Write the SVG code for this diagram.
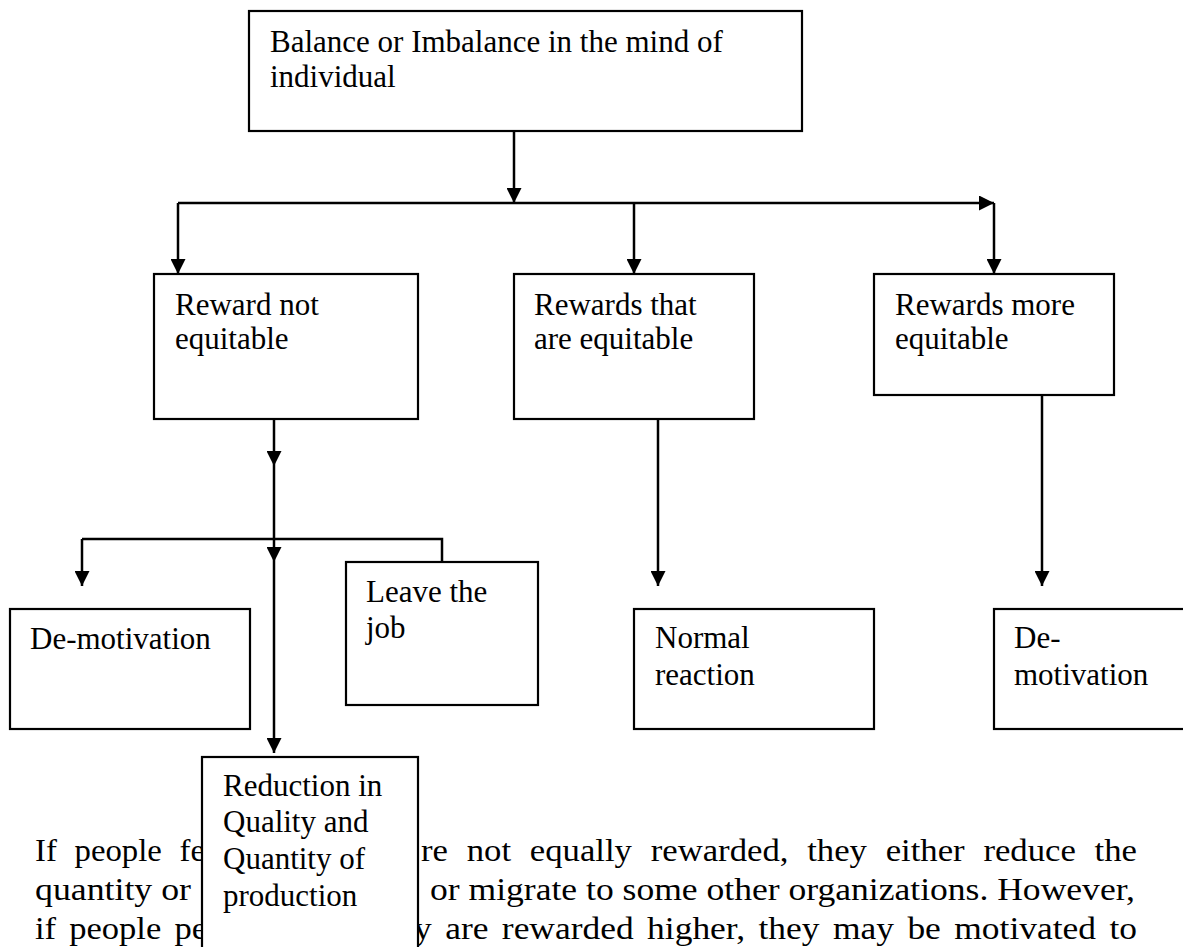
<svg xmlns="http://www.w3.org/2000/svg" width="1183" height="947" viewBox="0 0 1183 947">
  <style>
    .box { fill: #ffffff; stroke: #000000; stroke-width: 2.2; }
    .lbl { font-family: "Liberation Serif", "Times New Roman", serif; font-size: 31px; fill: #000000; }
    .body { font-family: "Liberation Serif", "Times New Roman", serif; font-size: 31px; fill: #000000; }
    .wide { word-spacing: 9px; }
    .mid { word-spacing: 4px; }
    .wire { fill: none; stroke: #000000; stroke-width: 2.5; }
    .arrow { fill: none; stroke: #000000; stroke-width: 2.5; marker-end: url(#head); }
  </style>
  <defs>
    <marker id="head" markerUnits="userSpaceOnUse" markerWidth="15" markerHeight="15" viewBox="0 0 15 15" refX="15" refY="7.5" orient="auto">
      <path d="M0,0 L15,7.5 L0,15 Z" fill="#000000"/>
    </marker>
  </defs>

  <rect width="1183" height="947" fill="#ffffff"/>

  <!-- paragraph below the chart (the result box sits over its middle) -->
  <g id="paragraph">
    <text class="body wide" x="35" y="861" textLength="170" lengthAdjust="spacingAndGlyphs">If people fe</text>
    <text class="body wide" x="421" y="861" textLength="716" lengthAdjust="spacingAndGlyphs">re not equally rewarded, they either reduce the</text>
    <text class="body" x="35" y="900" textLength="156" lengthAdjust="spacingAndGlyphs">quantity or</text>
    <text class="body" x="430" y="900" textLength="705" lengthAdjust="spacingAndGlyphs">or migrate to some other organizations. However,</text>
    <text class="body mid" x="35" y="939" textLength="172" lengthAdjust="spacingAndGlyphs">if people pe</text>
    <text class="body mid" x="414" y="939" textLength="723" lengthAdjust="spacingAndGlyphs">y are rewarded higher, they may be motivated to</text>
  </g>

  <g id="connectors">
    <!-- root to the three reward types -->
    <path class="arrow" d="M514,131 V203"/>
    <path class="arrow" d="M178,203 H994"/>
    <path class="arrow" d="M178,203 V274"/>
    <path class="arrow" d="M634,203 V274"/>
    <path class="arrow" d="M994,203 V274"/>
    <!-- reward not equitable branch -->
    <path class="arrow" d="M274,419 V466"/>
    <path class="wire" d="M274,466 V539"/>
    <path class="wire" d="M82,539 H442 V562"/>
    <path class="arrow" d="M82,539 V586"/>
    <path class="arrow" d="M274,539 V562"/>
    <path class="arrow" d="M274,562 V753"/>
    <!-- equitable and more equitable branches -->
    <path class="arrow" d="M658,419 V586"/>
    <path class="arrow" d="M1042,395 V586"/>
  </g>

  <g id="root">
    <rect class="box" x="249" y="11" width="553" height="120"/>
    <text class="lbl" x="270" y="52">Balance or Imbalance in the mind of</text>
    <text class="lbl" x="270" y="87">individual</text>
  </g>

  <g id="reward-not-equitable">
    <rect class="box" x="154" y="274" width="264" height="145"/>
    <text class="lbl" x="175" y="315">Reward not</text>
    <text class="lbl" x="175" y="349">equitable</text>
  </g>

  <g id="rewards-equitable">
    <rect class="box" x="514" y="274" width="240" height="145"/>
    <text class="lbl" x="534" y="315">Rewards that</text>
    <text class="lbl" x="534" y="349">are equitable</text>
  </g>

  <g id="rewards-more-equitable">
    <rect class="box" x="874" y="274" width="240" height="121"/>
    <text class="lbl" x="895" y="315">Rewards more</text>
    <text class="lbl" x="895" y="349">equitable</text>
  </g>

  <g id="demotivation-left">
    <rect class="box" x="10" y="609" width="240" height="120"/>
    <text class="lbl" x="30" y="649">De-motivation</text>
  </g>

  <g id="leave-job">
    <rect class="box" x="346" y="562" width="192" height="143"/>
    <text class="lbl" x="366" y="602">Leave the</text>
    <text class="lbl" x="366" y="638">job</text>
  </g>

  <g id="normal-reaction">
    <rect class="box" x="634" y="609" width="240" height="120"/>
    <text class="lbl" x="655" y="648">Normal</text>
    <text class="lbl" x="655" y="685">reaction</text>
  </g>

  <g id="demotivation-right">
    <rect class="box" x="994" y="609" width="200" height="120"/>
    <text class="lbl" x="1014" y="648">De-</text>
    <text class="lbl" x="1014" y="685">motivation</text>
  </g>

  <g id="reduction">
    <rect class="box" x="202" y="757" width="216" height="210"/>
    <text class="lbl" x="223" y="796">Reduction in</text>
    <text class="lbl" x="223" y="832">Quality and</text>
    <text class="lbl" x="223" y="869">Quantity of</text>
    <text class="lbl" x="223" y="906">production</text>
  </g>
</svg>
